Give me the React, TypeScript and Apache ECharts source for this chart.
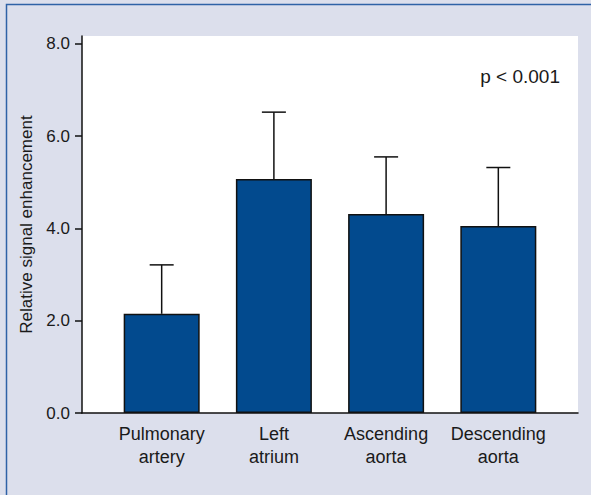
import React, { useEffect, useRef } from "react";
import * as echarts from "echarts";

const categories = ["Pulmonary\nartery", "Left\natrium", "Ascending\naorta", "Descending\naorta"];
const means = [2.15, 5.07, 4.31, 4.05];
const upperErrors = [3.21, 6.52, 5.55, 5.32];
const yTicks = [0, 2, 4, 6, 8];
const yTitle = "Relative signal enhancement";
const pText = "p < 0.001";

const FONT = "'Liberation Sans', Arial, sans-serif";

export default function App() {
  const ref = useRef<HTMLDivElement>(null);
  useEffect(() => {
    if (!ref.current) return;
    const chart = echarts.init(ref.current, null, { renderer: "svg" });
    const xIdx = categories.map((_, i) => i);
    chart.setOption({
      animation: false,
      backgroundColor: "#dcdfec",
      graphic: [
        {
          type: "rect",
          shape: { x: 6.5, y: 4.5, width: 700, height: 700 },
          style: { fill: "none", stroke: "#2f62a6", lineWidth: 1.5 },
          silent: true,
        },
        {
          type: "text",
          x: 560,
          y: 76,
          style: {
            text: pText,
            align: "right",
            verticalAlign: "middle",
            fontSize: 19,
            fontFamily: FONT,
            fill: "#1a1a1a",
          },
        },
      ],
      grid: {
        left: 82,
        top: 36,
        width: 496,
        height: 377,
        show: true,
        backgroundColor: "#ffffff",
        borderWidth: 0,
      },
      xAxis: {
        type: "value",
        min: -0.71,
        max: 3.71,
        splitLine: { show: false },
        axisTick: { show: false },
        axisLine: { show: true, onZero: false, lineStyle: { color: "#111", width: 1.5 } },
        axisLabel: {
          customValues: xIdx,
          formatter: (v: number) => categories[Math.round(v)] ?? "",
          fontSize: 18,
          lineHeight: 23,
          fontFamily: FONT,
          color: "#1a1a1a",
          margin: 9,
        },
      },
      yAxis: {
        type: "value",
        min: 0,
        max: 8.17,
        name: yTitle,
        nameLocation: "middle",
        nameGap: 44,
        nameTextStyle: { fontSize: 17, fontFamily: FONT, color: "#1a1a1a" },
        splitLine: { show: false },
        axisLine: { show: true, onZero: false, lineStyle: { color: "#111", width: 1.5 } },
        axisTick: { show: true, customValues: yTicks, length: 7, lineStyle: { color: "#111", width: 1.5 } },
        axisLabel: {
          customValues: yTicks,
          formatter: (v: number) => v.toFixed(1),
          fontSize: 17,
          fontFamily: FONT,
          color: "#1a1a1a",
          margin: 12,
        },
      },
      series: [
        {
          type: "custom",
          z: 1,
          data: means.map((m, i) => [i, m, upperErrors[i]]),
          renderItem: (params: any, api: any) => {
            const x = api.value(0);
            const low = api.coord([x, api.value(1)]);
            const high = api.coord([x, api.value(2)]);
            const half = 12;
            const style = { stroke: "#111", lineWidth: 1.5 };
            return {
              type: "group",
              children: [
                { type: "line", shape: { x1: low[0], y1: low[1], x2: high[0], y2: high[1] }, style },
                { type: "line", shape: { x1: high[0] - half, y1: high[1], x2: high[0] + half, y2: high[1] }, style },
              ],
            };
          },
        },
        {
          type: "bar",
          z: 2,
          barWidth: 76,
          data: means.map((m, i) => [i, m]),
          itemStyle: { color: "#024a8e", borderColor: "#111", borderWidth: 1.5 },
        },
      ],
    });
    return () => chart.dispose();
  }, []);
  return <div ref={ref} style={{ position: "fixed", left: 0, top: 0, width: 591, height: 495 }} />;
}
